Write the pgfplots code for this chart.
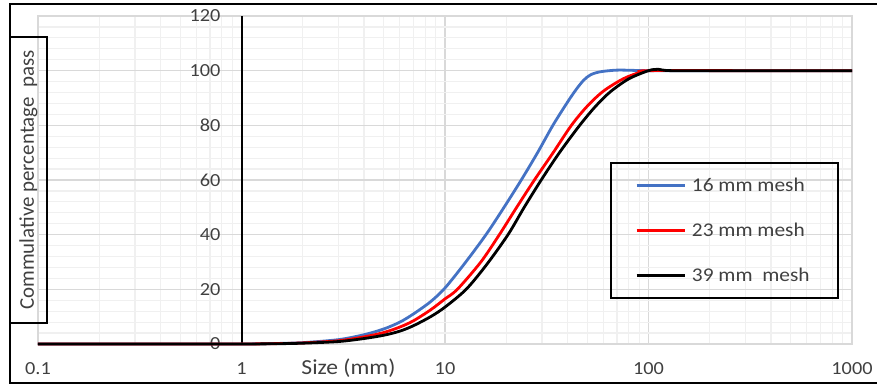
\documentclass[border=0pt]{standalone}
\usepackage{fontspec}
\setmainfont{Carlito}
\usepackage{pgfplots}
\usepackage{pgfplotstable}
\usepackage{graphicx}
\pgfplotsset{compat=1.18}
\definecolor{xlblue}{RGB}{68,114,196}
\definecolor{txt}{RGB}{64,64,64}
\newcommand\sx[1]{\scalebox{1.1}[1]{#1}}

\pgfplotstableread{
x y
0.1 0
0.5 0
1 0
1.5 0.2
2 0.5
3 1.6
4 3.4
5 5.5
6 8
7 11
8.5 15.5
10 20.5
12.5 29.5
15.9 40
19.5 50
23.7 60
28.5 70
33.9 80
40 88.5
44 93
48 96.5
52 98.5
58 99.6
70 100.2
85 100.1
100 100
300 100
1000 100
}\bluedata

\pgfplotstableread{
x y
0.1 0
0.5 0
1 0
1.5 0.15
2 0.4
3 1.2
4 2.6
5 4.2
6 6.2
7 8.5
8.5 12.5
10 16.5
11.5 20
15 30
18.5 40
22.5 50
27.5 60
34 70
41.8 80
50 87
60 92.5
75 97
90 99.3
100 100
300 100
1000 100
}\reddata

\pgfplotstableread{
x y
0.1 0
0.5 0
1 0
1.5 0.1
2 0.3
3 0.9
4 2
5 3.2
6 4.7
7 6.7
8.5 10
10 13.5
12.7 20
16 29
20.4 40
24.5 50
29.7 60
36.5 70
45.9 80
55 87
65 92.3
80 97
100 100
112 100.5
130 100
300 100
1000 100
}\blackdata

\begin{document}
\begin{tikzpicture}[x=1bp,y=1bp]
\useasboundingbox (0,0) rectangle (877,385);
\begin{axis}[
  at={(38bp,41bp)}, anchor=south west,
  scale only axis, width=814bp, height=328bp,
  xmode=log, log basis x=10,
  xmin=0.1, xmax=1000, ymin=0, ymax=120,
  xtick={0.1,1,10,100,1000},
  xticklabels={\sx{0.1},\sx{1},\sx{10},\sx{100},\sx{1000}},
  minor xtick={0.2,0.3,0.4,0.5,0.6,0.7,0.8,0.9,2,3,4,5,6,7,8,9,20,30,40,50,60,70,80,90,200,300,400,500,600,700,800,900},
  ytick={0,20,40,60,80,100,120},
  yticklabels={\sx{0},\sx{20},\sx{40},\sx{60},\sx{80},\sx{100},\sx{120}},
  minor y tick num=4,
  grid=both,
  major grid style={draw=black!15, line width=1.2bp},
  minor grid style={draw=black!6, line width=1.2bp},
  axis line style={draw=black!15, line width=1.2bp},
  major tick length=0pt, minor tick length=0pt,
  tick style={draw=none},
  tick label style={font=\fontsize{18.5}{20}\selectfont, text=txt},
  yticklabel style={anchor=east, inner sep=0pt, xshift=182.7bp},
  xticklabel style={anchor=base, inner sep=0pt, yshift=-30bp},
  xlabel={\sx{Size (mm)}},
  xlabel style={font=\fontsize{21.5}{22}\selectfont, text=txt, at={(rel axis cs:0.3814,0)}, anchor=base, inner sep=0pt, yshift=-30bp},
  ylabel={Commulative percentage\ \ pass},
  ylabel style={font=\fontsize{21}{22}\selectfont, text=txt, draw=black, line width=1.3bp, minimum width=286bp, minimum height=37bp, inner sep=0pt, at={(rel axis cs:-0.01167,0.5)}, anchor=center},
  legend cell align=left,
  legend style={at={(rel axis cs:0.7334,0.5152)}, anchor=north west, draw=none, fill=none, inner sep=0pt, row sep=25bp, column sep=6bp, font=\fontsize{19.5}{20}\selectfont, text=txt, nodes={inner sep=0pt, minimum height=20bp}},
  legend image code/.code={\draw[#1] (0bp,0bp) -- (48bp,0bp);},
  clip=false,
]
\draw[black, line width=1.3bp] (rel axis cs:0.7039,0.5518) rectangle (rel axis cs:0.9828,0.1402);
\draw[black, line width=2bp] (axis cs:1,0) -- (axis cs:1,120);
\addplot[xlblue, line width=2.8bp, smooth] table[x=x,y=y] {\bluedata};
\addlegendentry{\sx{16 mm mesh}}
\addplot[red, line width=2.8bp, smooth] table[x=x,y=y] {\reddata};
\addlegendentry{\sx{23 mm mesh}}
\addplot[black, line width=2.8bp, smooth] table[x=x,y=y] {\blackdata};
\addlegendentry{\sx{39 mm\ \ mesh}}
\end{axis}
\draw[black, line width=2.5bp] (877,381) -- (10,381) -- (10,2) -- (877,2);
\end{tikzpicture}
\end{document}
